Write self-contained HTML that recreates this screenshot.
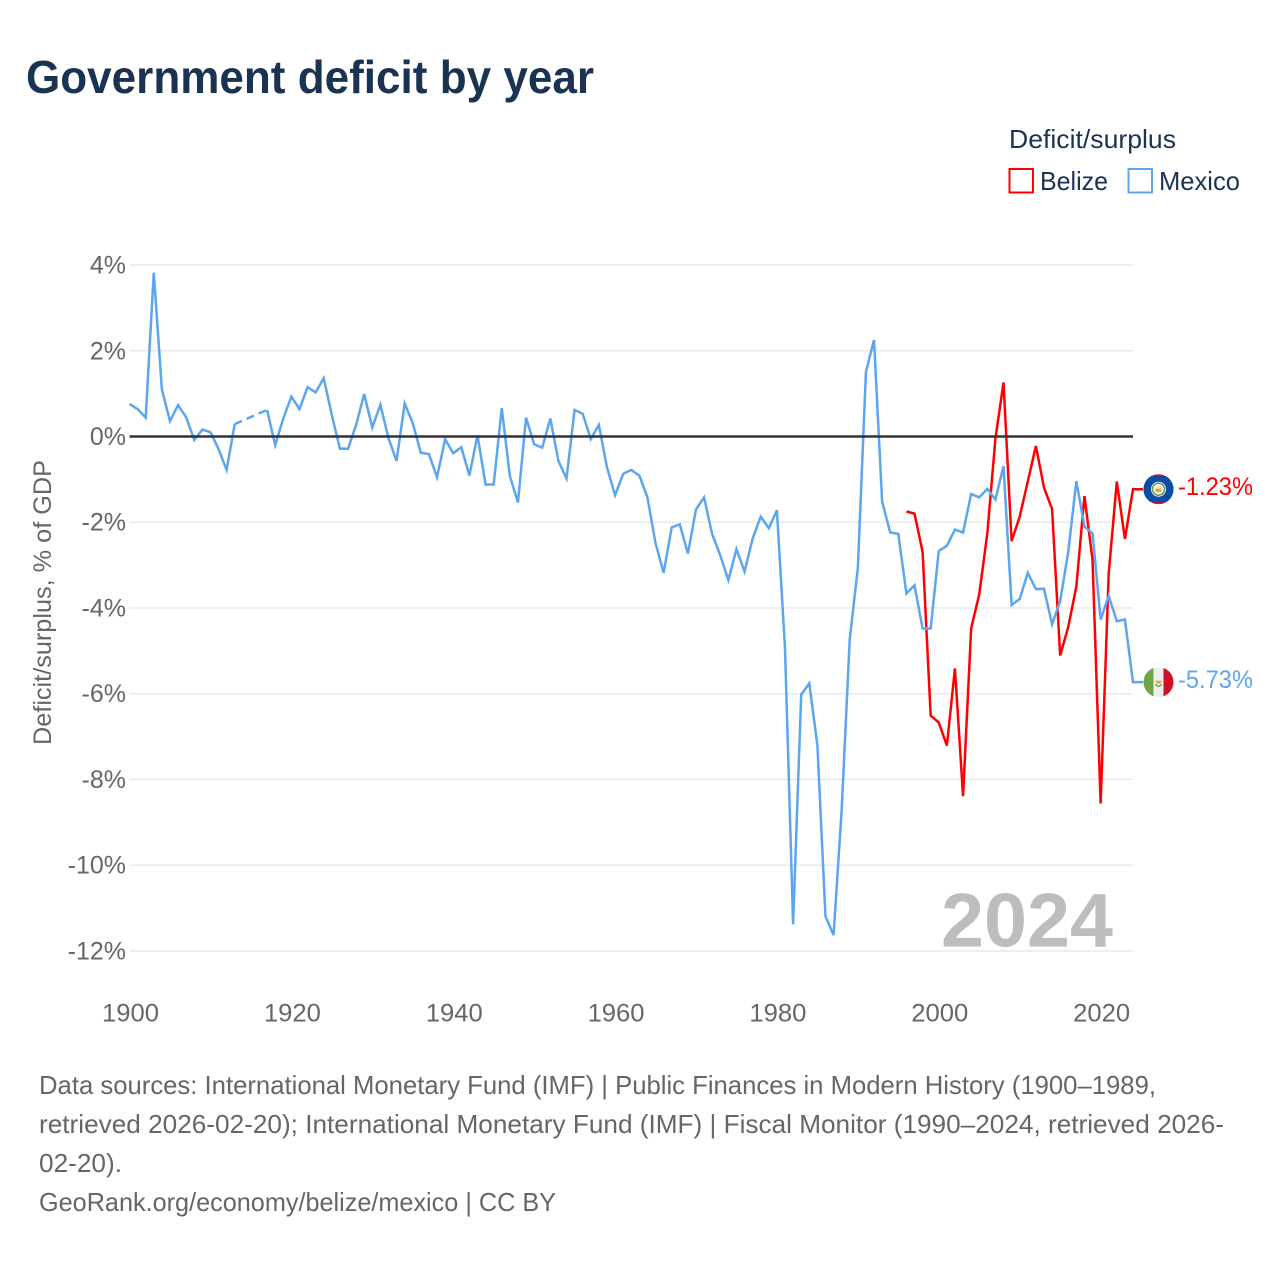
<!DOCTYPE html>
<html lang="en">
<head>
<meta charset="utf-8">
<title>Government deficit by year</title>
<style>
html,body{margin:0;padding:0;background:#fff;width:1280px;height:1280px;overflow:hidden}
svg{display:block;font-family:"Liberation Sans",sans-serif}
</style>
</head>
<body>
<svg id="chart" xmlns="http://www.w3.org/2000/svg" width="1280" height="1280" viewBox="0 0 1280 1280">
  <defs>
    <clipPath id="flag-clip"><circle cx="0" cy="0" r="15"/></clipPath>
  </defs>
  <rect x="0" y="0" width="1280" height="1280" fill="#fff"/>
  <text x="26" y="93" font-size="46" font-weight="700" fill="#1a3352" textLength="568" lengthAdjust="spacingAndGlyphs">Government deficit by year</text>

  <g font-size="26" fill="#1a3352">
    <text x="1009" y="148" textLength="167" lengthAdjust="spacingAndGlyphs">Deficit/surplus</text>
    <g>
      <rect x="1009.5" y="169" width="23.5" height="23.5" fill="#fff" stroke="#ff0000" stroke-width="2"/>
      <text x="1040" y="190" textLength="68" lengthAdjust="spacingAndGlyphs">Belize</text>
    </g>
    <g>
      <rect x="1128.5" y="169" width="23.5" height="23.5" fill="#fff" stroke="#5ca6ef" stroke-width="2"/>
      <text x="1159" y="190" textLength="81" lengthAdjust="spacingAndGlyphs">Mexico</text>
    </g>
  </g>

  <text transform="translate(51,602.5) rotate(-90)" text-anchor="middle" font-size="25" fill="#666" textLength="285" lengthAdjust="spacingAndGlyphs">Deficit/surplus, % of GDP</text>

  <g id="grid"></g>
  <g id="y-ticks"></g>
  <g id="x-ticks"></g>

  <text x="941" y="946.5" font-size="76" font-weight="700" fill="#bdbdbd" textLength="172" lengthAdjust="spacingAndGlyphs">2024</text>

  <g id="series"></g>
  <line id="zero-line" stroke="#333" stroke-width="2.5"/>
  <g id="series-top"></g>

  <g font-size="26" fill="#666">
    <text x="39" y="1094" textLength="1117" lengthAdjust="spacingAndGlyphs">Data sources: International Monetary Fund (IMF) | Public Finances in Modern History (1900–1989,</text>
    <text x="39" y="1133" textLength="1185" lengthAdjust="spacingAndGlyphs">retrieved 2026-02-20); International Monetary Fund (IMF) | Fiscal Monitor (1990–2024, retrieved 2026-</text>
    <text x="39" y="1172" textLength="83" lengthAdjust="spacingAndGlyphs">02-20).</text>
    <text x="39" y="1211" textLength="517" lengthAdjust="spacingAndGlyphs">GeoRank.org/economy/belize/mexico | CC BY</text>
  </g>
</svg>
<script>
const yTickValues = [4, 2, 0, -2, -4, -6, -8, -10, -12];
const xTickYears = [1900, 1920, 1940, 1960, 1980, 2000, 2020];

const mexicoStartYear = 1900;
const mexicoValues = [
  0.76, 0.64, 0.44, 3.82, 1.10, 0.36, 0.73, 0.45, -0.08, 0.16,
  0.10, -0.29, -0.78, 0.29, null, null, null, 0.62, -0.20, 0.42,
  0.93, 0.64, 1.15, 1.03, 1.36, 0.50, -0.28, -0.29, 0.27, 0.99,
  0.21, 0.74, -0.04, -0.57, 0.77, 0.31, -0.38, -0.41, -0.95, -0.06,
  -0.39, -0.25, -0.91, 0.03, -1.12, -1.12, 0.66, -0.92, -1.54, 0.44,
  -0.18, -0.26, 0.42, -0.57, -0.98, 0.62, 0.53, -0.06, 0.27, -0.72,
  -1.37, -0.87, -0.78, -0.91, -1.42, -2.49, -3.18, -2.12, -2.05, -2.73,
  -1.70, -1.42, -2.28, -2.77, -3.35, -2.63, -3.15, -2.38, -1.87, -2.14,
  -1.72, -4.94, -11.38, -6.02, -5.76, -7.20, -11.19, -11.63, -8.72, -4.72,
  -3.07, 1.51, 2.25, -1.52, -2.24, -2.27, -3.66, -3.47, -4.48, -4.48,
  -2.67, -2.55, -2.17, -2.24, -1.34, -1.42, -1.22, -1.47, -0.69, -3.93,
  -3.79, -3.18, -3.56, -3.55, -4.38, -3.84, -2.69, -1.04, -2.10, -2.26,
  -4.27, -3.72, -4.31, -4.27, -5.73
];

const belizeStartYear = 1996;
const belizeValues = [
  -1.75, -1.80, -2.69, -6.51, -6.67, -7.21, -5.41, -8.39, -4.48, -3.68,
  -2.26, -0.05, 1.26, -2.44, -1.87, -1.05, -0.22, -1.19, -1.69, -5.11,
  -4.44, -3.50, -1.39, -2.88, -8.56, -3.19, -1.05, -2.39, -1.23
];

const belizeColor = "#ff0000";
const mexicoColor = "#5ca6ef";
const plotLeft = 129.5, plotRight = 1133;
const zeroY = 436.5, pxPerUnit = 42.87;
const NS = "http://www.w3.org/2000/svg";

function xScale(year) { return plotLeft + (year - 1900) * (plotRight - plotLeft) / 124; }
function yScale(value) { return zeroY - value * pxPerUnit; }
function make(tag, attrs, parent) {
  const el = document.createElementNS(NS, tag);
  for (const k in attrs) el.setAttribute(k, attrs[k]);
  parent.appendChild(el);
  return el;
}

const gridGroup = document.getElementById("grid");
const yTickGroup = document.getElementById("y-ticks");
yTickValues.forEach(v => {
  if (v !== 0) {
    const gl = make("line", {x1: plotLeft, x2: plotRight, y1: yScale(v), y2: yScale(v), stroke: "#e8e8e8", "stroke-width": 1.4}, gridGroup);
    
    
  }
  const t = make("text", {x: 126, y: yScale(v) + 8.5, "text-anchor": "end", "font-size": 25, fill: "#666"}, yTickGroup);
  t.textContent = v + "%";
  
  
});

const xTickGroup = document.getElementById("x-ticks");
xTickYears.forEach(yr => {
  const t = make("text", {x: xScale(yr) + 1, y: 1021.5, "text-anchor": "middle", "font-size": 25, fill: "#666", textLength: 57, lengthAdjust: "spacingAndGlyphs"}, xTickGroup);
  t.textContent = yr;
  
  
});

const zero = document.getElementById("zero-line");
zero.setAttribute("x1", plotLeft);
zero.setAttribute("x2", plotRight);
zero.setAttribute("y1", yScale(0));
zero.setAttribute("y2", yScale(0));

function drawSeries(startYear, values, color, name) {
  const group = document.getElementById("series");
  let solid = "", dashed = "", pen = false, last = null;
  values.forEach((v, i) => {
    if (v === null) { pen = false; return; }
    const px = xScale(startYear + i).toFixed(2), py = yScale(v).toFixed(2);
    if (!pen) {
      if (last) dashed += "M" + last + "L" + px + " " + py;
      solid += "M" + px + " " + py;
    } else {
      solid += "L" + px + " " + py;
    }
    pen = true;
    last = px + " " + py;
  });
  const leadX = plotRight + 10;
  solid += "L" + leadX + " " + yScale(values[values.length - 1]).toFixed(2);
  const line = make("path", {d: solid, fill: "none", stroke: color, "stroke-width": 2.5, "stroke-linejoin": "miter", "stroke-miterlimit": 4}, group);
  
  
  if (dashed) {
    const gap = make("path", {d: dashed, fill: "none", stroke: color, "stroke-width": 2.5, "stroke-dasharray": "8 5"}, group);
    
    
  }
}
drawSeries(belizeStartYear, belizeValues, belizeColor, "belize");
drawSeries(mexicoStartYear, mexicoValues, mexicoColor, "mexico");

const topGroup = document.getElementById("series-top");
function endLabel(value, color, name) {
  const t = make("text", {x: 1178, y: yScale(value) + 6, "font-size": 25, fill: color, textLength: 75, lengthAdjust: "spacingAndGlyphs"}, topGroup);
  t.textContent = value.toFixed(2) + "%";
  
  
}
function flagGroup(value, name) {
  const g = make("g", {transform: "translate(1158.5," + yScale(value).toFixed(2) + ")", "clip-path": "url(#flag-clip)"}, topGroup);
  
  
  return g;
}

const belizeLast = belizeValues[belizeValues.length - 1];
const bf = flagGroup(belizeLast, "belize");
make("rect", {x: -15, y: -15, width: 30, height: 30, fill: "#ce1126"}, bf);
make("rect", {x: -15, y: -13, width: 30, height: 26, fill: "#0b4ea8"}, bf);
make("circle", {cx: 0, cy: 0, r: 7.5, fill: "#fff"}, bf);
make("circle", {cx: 0, cy: 0, r: 6, fill: "none", stroke: "#6f9a5a", "stroke-width": 1.6}, bf);
make("circle", {cx: 0, cy: 0, r: 3.8, fill: "#f2e6c4"}, bf);
make("rect", {x: -3, y: -0.5, width: 6, height: 3, fill: "#e8a33d"}, bf);
endLabel(belizeLast, belizeColor, "belize");

const mexicoLast = mexicoValues[mexicoValues.length - 1];
const mf = flagGroup(mexicoLast, "mexico");
make("rect", {x: -15, y: -15, width: 10, height: 30, fill: "#6fa544"}, mf);
make("rect", {x: -5, y: -15, width: 10, height: 30, fill: "#eeeeee"}, mf);
make("rect", {x: 5, y: -15, width: 10, height: 30, fill: "#ce1126"}, mf);
make("path", {d: "M-3.5 -1.5 L3.5 -1.5 L1.5 1.5 L-1.5 1.5 Z", fill: "#e8a33d"}, mf);
make("path", {d: "M-3 2 Q0 6 3 2", fill: "none", stroke: "#6fa544", "stroke-width": 1.4}, mf);
endLabel(mexicoLast, mexicoColor, "mexico");
</script>
</body>
</html>
